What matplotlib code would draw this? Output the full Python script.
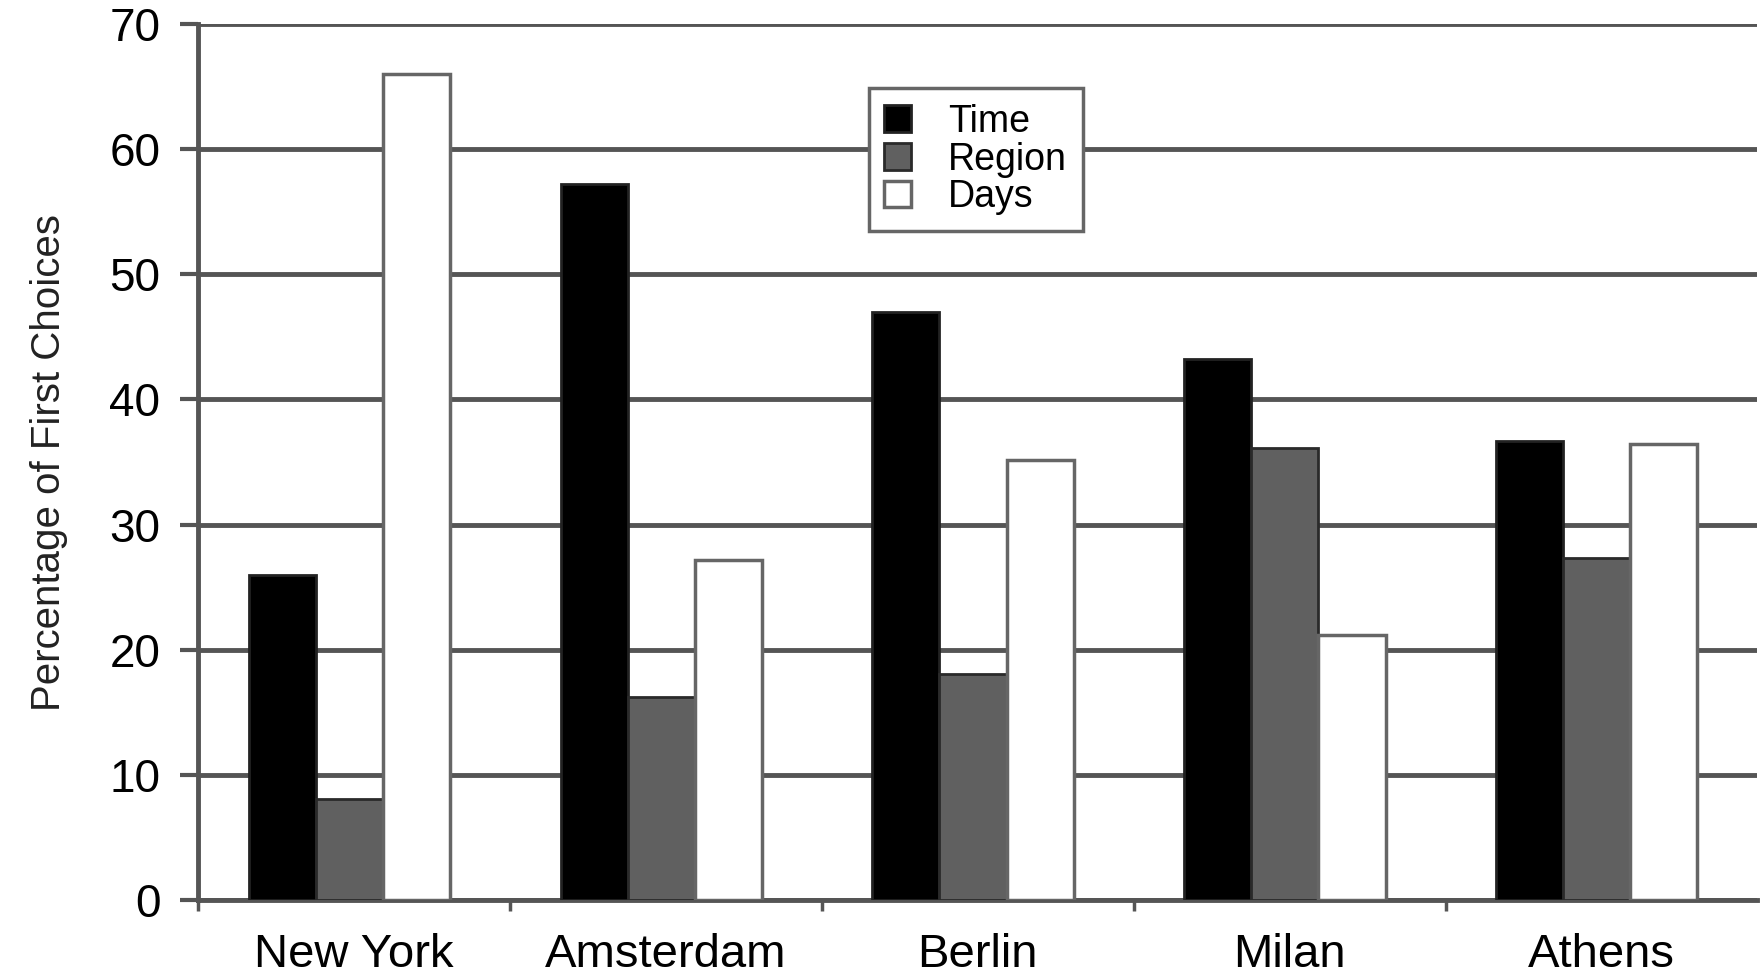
import numpy as np
from matplotlib import pyplot as plt
from matplotlib.ticker import FixedLocator, NullFormatter

cities = ['New York', 'Amsterdam', 'Berlin', 'Milan', 'Athens']
time_vals = [26, 57.2, 47, 43.2, 36.7]
region_vals = [8.1, 16.2, 18.1, 36.1, 27.3]
days_vals = [66, 27.2, 35.2, 21.2, 36.4]
yticks = [0, 10, 20, 30, 40, 50, 60, 70]

plt.rcParams['font.family'] = ['Liberation Sans', 'DejaVu Sans']

fig = plt.figure(figsize=(17.61, 9.75), dpi=100)
ax = fig.add_axes([0.1124, 0.0769, 0.8856, 0.8985])

centers = np.arange(len(cities)) + 0.5 - 0.015
w = 0.215
ax.bar(centers - w, time_vals, w, color='black', edgecolor='#222222', linewidth=2, label='Time', zorder=3)
ax.bar(centers, region_vals, w, color='#606060', edgecolor='#2a2a2a', linewidth=2, label='Region', zorder=3)
ax.bar(centers + w, days_vals, w, color='white', edgecolor='#666666', linewidth=2.5, label='Days', zorder=3)

ax.set_xlim(0, 5)
ax.set_ylim(0, 70)
ax.set_yticks(yticks)
ax.yaxis.grid(True, color='#555555', linewidth=3.5, zorder=0)
ax.set_axisbelow(True)

ax.xaxis.set_major_locator(FixedLocator([0, 1, 2, 3, 4]))
ax.xaxis.set_major_formatter(NullFormatter())
ax.xaxis.set_minor_locator(FixedLocator(np.arange(5) + 0.5))
ax.set_xticklabels(cities, minor=True)
ax.tick_params(axis='x', which='minor', length=0, pad=24, labelsize=34)
ax.tick_params(axis='x', which='major', length=8, width=2.5, color='#555555')
ax.tick_params(axis='y', length=13, width=3, color='#555555', labelsize=33, pad=14)

for s in ['top', 'right']:
    ax.spines[s].set_visible(False)
for s in ['left', 'bottom']:
    ax.spines[s].set_color('#555555')
    ax.spines[s].set_linewidth(3.5)

ax.set_ylabel('Percentage of First Choices', fontsize=29, labelpad=30, color='#222222')

# leyenda
leg = ax.legend(loc='upper left', bbox_to_anchor=(0.43, 0.927), borderaxespad=0,
                fontsize=27, fancybox=False, framealpha=1, edgecolor='#666666',
                handlelength=0.7, handleheight=0.7, handletextpad=1.0,
                labelspacing=0.05, borderpad=0.42)
leg.get_frame().set_linewidth(2.5)

fig.savefig('out.png', dpi=100)
